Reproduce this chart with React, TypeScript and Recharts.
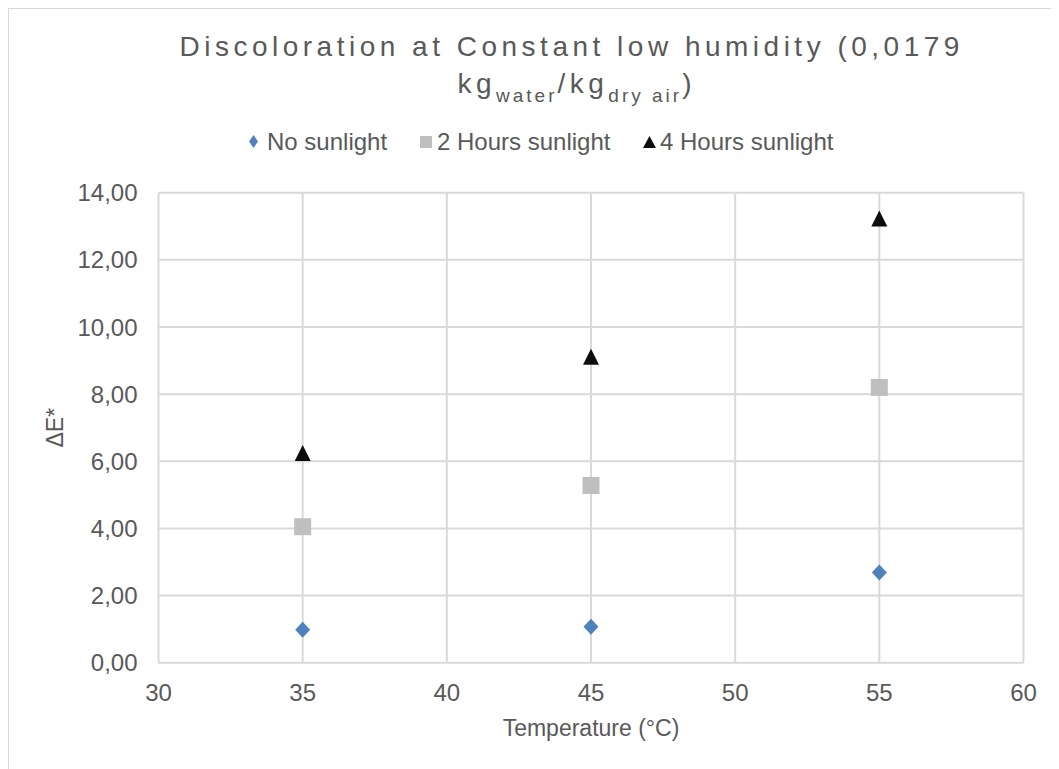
import { CartesianGrid, Scatter, ScatterChart, XAxis, YAxis } from 'recharts';

if (typeof document !== 'undefined') {
  document.body.style.overflow = 'hidden';
}

const temperatures = [35, 45, 55];
const noSunlight = [0.98, 1.07, 2.69];
const twoHours = [4.05, 5.28, 8.2];
const fourHours = [6.25, 9.11, 13.23];

const xTicks = [30, 35, 40, 45, 50, 55, 60];
const yTicks = [0, 2, 4, 6, 8, 10, 12, 14];

const toPoints = (values: number[]) =>
  temperatures.map((t, i) => ({ t, v: values[i] }));

const TEXT = '#595959';
const GRID = '#d9d9d9';
const BLUE = '#4f81bd';
const GREY = '#bfbfbf';
const BLACK = '#0d0d0d';
const FONT = '"Liberation Sans", Arial, sans-serif';

const fmt = (v: number) => v.toFixed(2).replace('.', ',');

const DiamondMark = (p: any) => (
  <polygon
    points={`${p.cx},${p.cy - 8} ${p.cx + 7.5},${p.cy} ${p.cx},${p.cy + 8} ${p.cx - 7.5},${p.cy}`}
    fill={BLUE}
  />
);

const SquareMark = (p: any) => (
  <rect x={p.cx - 8.5} y={p.cy - 8.5} width={17} height={17} fill={GREY} />
);

const TriangleMark = (p: any) => (
  <polygon
    points={`${p.cx},${p.cy - 8} ${p.cx + 8},${p.cy + 8} ${p.cx - 8},${p.cy + 8}`}
    fill={BLACK}
  />
);

const YLabel = (props: any) => {
  const vb = props.viewBox;
  const x = 54.5;
  const y = vb.y + vb.height / 2;
  return (
    <text
      x={x}
      y={y}
      transform={`rotate(-90 ${x} ${y})`}
      textAnchor="middle"
      fill={TEXT}
      fontSize={23}
      fontFamily={FONT}
    >
      ΔE*
    </text>
  );
};

const titleLine: React.CSSProperties = {
  position: 'absolute',
  width: 1000,
  textAlign: 'center',
  fontSize: 28,
  lineHeight: '28px',
  letterSpacing: 4.5,
  color: TEXT,
  whiteSpace: 'nowrap',
};

const sub: React.CSSProperties = {
  fontSize: 19,
  position: 'relative',
  top: 9,
  letterSpacing: 3,
};

const legendText: React.CSSProperties = {
  position: 'absolute',
  top: 120.7,
  fontSize: 24,
  lineHeight: '24px',
  color: TEXT,
  whiteSpace: 'nowrap',
};

const App = () => (
  <div
    style={{
      position: 'relative',
      width: 1051,
      height: 770,
      boxSizing: 'border-box',
      border: `1px solid ${GRID}`,
      background: '#fff',
      fontFamily: FONT,
    }}
  >
    <div style={{ ...titleLine, top: 24.3, left: 62.7 }}>
      Discoloration at Constant low humidity (0,0179
    </div>
    <div style={{ ...titleLine, top: 60.8, left: 67.7 }}>
      kg<span style={sub}>water</span>/kg<span style={sub}>dry air</span>)
    </div>

    <svg style={{ position: 'absolute', left: 240, top: 126 }} width={10} height={14}>
      <polygon points="4.5,0 9,6.5 4.5,13 0,6.5" fill={BLUE} />
    </svg>
    <span style={{ ...legendText, left: 258 }}>No sunlight</span>
    <svg style={{ position: 'absolute', left: 411, top: 127 }} width={12} height={12}>
      <rect x={0} y={0} width={12} height={12} fill={GREY} />
    </svg>
    <span style={{ ...legendText, left: 428 }}>2 Hours sunlight</span>
    <svg style={{ position: 'absolute', left: 634, top: 127 }} width={13} height={12}>
      <polygon points="6.5,0 13,12 0,12" fill={BLACK} />
    </svg>
    <span style={{ ...legendText, left: 651 }}>4 Hours sunlight</span>

    <ScatterChart
      width={1049}
      height={760}
      margin={{ top: 183.7, right: 34.5, bottom: 26.3, left: 69.5 }}
    >
      <CartesianGrid stroke={GRID} strokeWidth={2} />
      <XAxis
        type="number"
        dataKey="t"
        domain={[30, 60]}
        ticks={xTicks}
        height={80}
        axisLine={false}
        tickLine={false}
        tickSize={0}
        tickMargin={21}
        tick={{ fill: TEXT, fontSize: 24, fontFamily: FONT }}
        label={{
          value: 'Temperature (°C)',
          position: 'insideBottom',
          offset: 7,
          fill: TEXT,
          fontSize: 23,
          fontFamily: FONT,
        }}
      />
      <YAxis
        type="number"
        dataKey="v"
        domain={[0, 14]}
        ticks={yTicks}
        width={80}
        axisLine={false}
        tickLine={false}
        tickSize={0}
        tickMargin={21}
        tickFormatter={fmt}
        tick={{ fill: TEXT, fontSize: 24, fontFamily: FONT }}
        label={<YLabel />}
      />
      <Scatter
        name="No sunlight"
        data={toPoints(noSunlight)}
        shape={DiamondMark}
        isAnimationActive={false}
      />
      <Scatter
        name="2 Hours sunlight"
        data={toPoints(twoHours)}
        shape={SquareMark}
        isAnimationActive={false}
      />
      <Scatter
        name="4 Hours sunlight"
        data={toPoints(fourHours)}
        shape={TriangleMark}
        isAnimationActive={false}
      />
    </ScatterChart>
  </div>
);

export default App;
